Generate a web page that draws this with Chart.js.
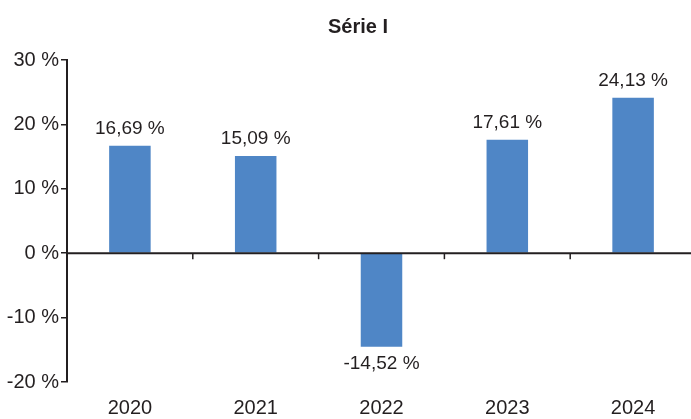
<!DOCTYPE html>
<html>
<head>
<meta charset="utf-8">
<script src="https://cdn.jsdelivr.net/npm/chart.js@4"></script>
<style>
html,body{margin:0;padding:0;overflow:hidden;background:#fff;}
#wrap{width:700px;height:419px;}
</style>
</head>
<body>
<div id="wrap"><canvas id="c"></canvas></div>
<script>
const categories = ['2020', '2021', '2022', '2023', '2024'];
const values = [16.69, 15.09, -14.52, 17.61, 24.13];
const yTicks = [-20, -10, 0, 10, 20, 30];
const titleText = 'Série I';

const AXIS = '#231F20';
const FONT = "'Liberation Sans', Arial, Helvetica, sans-serif";

const fmt = v => v.toFixed(2).replace('.', ',') + ' %';

const decor = {
  id: 'decor',
  afterDatasetsDraw(chart) {
    const ctx = chart.ctx, x = chart.scales.x, y = chart.scales.y, a = chart.chartArea;
    const y0 = y.getPixelForValue(0);
    ctx.save();
    ctx.strokeStyle = AXIS;
    ctx.lineWidth = 2;
    ctx.beginPath();
    ctx.moveTo(a.left, y0);
    ctx.lineTo(a.right, y0);
    ctx.stroke();
    ctx.lineWidth = 1.5;
    for (let i = 1; i < categories.length; i++) {
      const px = (x.getPixelForValue(i - 1) + x.getPixelForValue(i)) / 2;
      ctx.beginPath();
      ctx.moveTo(px, y0);
      ctx.lineTo(px, y0 + 6);
      ctx.stroke();
    }
    ctx.fillStyle = '#231F20';
    ctx.font = '19px ' + FONT;
    ctx.textAlign = 'center';
    ctx.textBaseline = 'middle';
    const meta = chart.getDatasetMeta(0);
    meta.data.forEach((bar, i) => {
      const v = values[i];
      const ty = v >= 0 ? bar.y - 17 : bar.y + 17;
      ctx.fillText(fmt(v), bar.x, ty);
    });
    // title
    ctx.font = 'bold 20px ' + FONT;
    ctx.fillText(titleText, 358, 27);
    ctx.restore();
  }
};

new Chart(document.getElementById('c'), {
  type: 'bar',
  data: {
    labels: categories,
    datasets: [{
      data: values,
      backgroundColor: '#4F86C6',
      borderWidth: 0,
      categoryPercentage: 0.33,
      barPercentage: 1.0
    }]
  },
  options: {
    responsive: true,
    maintainAspectRatio: false,
    animation: false,
    layout: { padding: { top: 60, right: 4, bottom: 1, left: 0 } },
    plugins: {
      legend: { display: false },
      tooltip: { enabled: false },
      title: { display: false }
    },
    scales: {
      x: {
        afterFit(s) { s.height = 36; },
        grid: { display: false, drawTicks: false },
        border: { display: false },
        ticks: { color: '#231F20', font: { family: FONT, size: 20 }, padding: 14 }
      },
      y: {
        min: -20,
        max: 30,
        afterBuildTicks(s) { s.ticks = yTicks.map(v => ({ value: v })); },
        afterFit(s) { s.width = 67; },
        grid: { drawOnChartArea: false, drawTicks: true, tickLength: 6, color: AXIS, lineWidth: 1.5 },
        border: { display: true, color: AXIS, width: 2 },
        ticks: { color: '#231F20', font: { family: FONT, size: 20 }, padding: 2, callback: v => v + ' %' }
      }
    }
  },
  plugins: [decor]
});
</script>
</body>
</html>
